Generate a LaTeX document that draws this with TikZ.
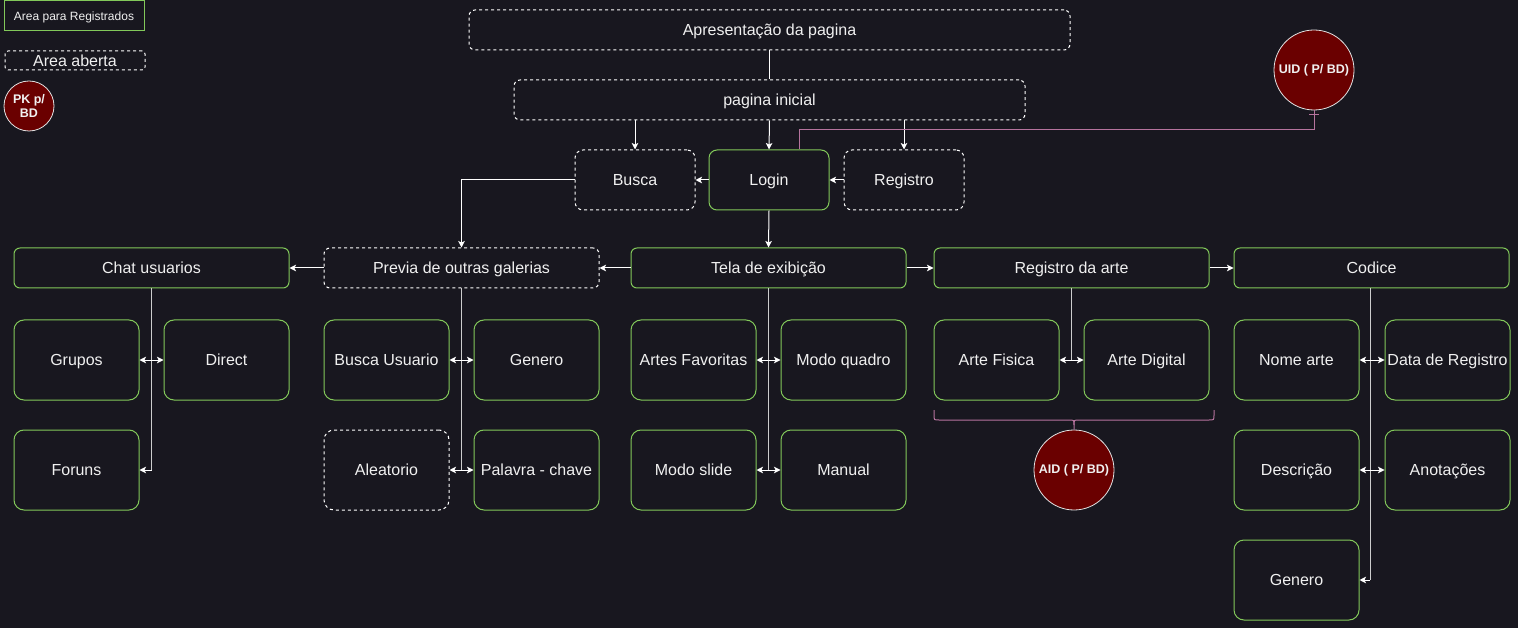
\documentclass[tikz,border=0pt]{standalone}
\usepackage{fontspec}
\setmainfont{Liberation Sans}
\usetikzlibrary{arrows.meta}
\definecolor{bg}{RGB}{24,23,31}
\definecolor{grn}{RGB}{130,200,90}
\definecolor{pnk}{RGB}{181,115,157}
\definecolor{dred}{RGB}{106,0,0}
\definecolor{txt}{RGB}{240,240,240}
\definecolor{trk}{RGB}{205,205,205}
\definecolor{cbord}{RGB}{225,225,225}
\begin{document}
\begin{tikzpicture}[x=1pt,y=-1pt,
  base/.style={rounded corners=6pt, text=txt, font=\fontsize{16}{19}\selectfont, inner sep=1pt, line width=1pt, fill=bg, text height=11.5pt, text depth=0pt},
  gbox/.style={base, draw=grn},
  dbox/.style={base, draw=white, dash pattern=on 3pt off 3pt},
  wide/.style={minimum width=275pt, minimum height=40pt},
  sq/.style={minimum width=125pt, minimum height=80pt, rounded corners=10pt},
  mid/.style={minimum width=120pt, minimum height=60pt, rounded corners=8pt},
  circ/.style={circle, draw=cbord, line width=0.8pt, fill=dred, text=txt, font=\bfseries\fontsize{12.5}{14}\selectfont, inner sep=0pt, align=center},
  arr/.style={draw=white, line width=1pt, -{Stealth[length=6.5pt,width=6.5pt,inset=1.5pt]}},
  plain/.style={draw=white, line width=1pt},
  trunk/.style={draw=trk, line width=1pt},
  pk/.style={draw=pnk, line width=1pt}]
\fill[bg] (0,0) rectangle (1518,628);
\useasboundingbox (0,0) rectangle (1518,628);

% legend
\node[base, draw=grn, rounded corners=0pt, minimum width=140pt, minimum height=30pt, font=\fontsize{12}{14}\selectfont, text height=8.6pt, text depth=0pt] (lreg) at (74,16) {Area para Registrados};
\node[dbox, rounded corners=3pt, minimum width=140pt, minimum height=19pt, inner sep=0pt] (lopen) at (75,60.5) {Area aberta};
\node[circ, minimum size=50pt] (pk) at (29,106) {PK p/\\BD};

% top
\node[dbox, minimum width=601pt, minimum height=40pt] (apres) at (769.5,30) {Apresentação da pagina};
\node[dbox, minimum width=511pt, minimum height=40pt] (inicial) at (769.5,100) {pagina inicial};
\node[dbox, mid] (busca) at (635,180) {Busca};
\node[gbox, mid] (login) at (769,180) {Login};
\node[dbox, mid] (registro) at (904,180) {Registro};
\node[circ, minimum size=80pt] (uid) at (1314,70) {UID ( P/ BD)};

% row 2
\node[gbox, wide] (chat) at (151.5,268) {Chat usuarios};
\node[dbox, wide] (previa) at (461.5,268) {Previa de outras galerias};
\node[gbox, wide] (tela) at (768.5,268) {Tela de exibição};
\node[gbox, wide] (rarte) at (1071.5,268) {Registro da arte};
\node[gbox, wide] (codice) at (1371.5,268) {Codice};

% row 3
\node[gbox, sq] (grupos) at (76.5,360) {Grupos};
\node[gbox, sq] (direct) at (226.5,360) {Direct};
\node[gbox, sq] (buscau) at (386.5,360) {Busca Usuario};
\node[gbox, sq] (generoa) at (536.5,360) {Genero};
\node[gbox, sq] (favs) at (693.5,360) {Artes Favoritas};
\node[gbox, sq] (quadro) at (843.5,360) {Modo quadro};
\node[gbox, sq] (fisica) at (996.5,360) {Arte Fisica};
\node[gbox, sq] (digital) at (1146.5,360) {Arte Digital};
\node[gbox, sq] (nome) at (1296.5,360) {Nome arte};
\node[gbox, sq] (data) at (1447.5,360) {Data de Registro};

% row 4
\node[gbox, sq] (foruns) at (76.5,470) {Foruns};
\node[dbox, sq] (aleat) at (386.5,470) {Aleatorio};
\node[gbox, sq] (palavra) at (536.5,470) {Palavra - chave};
\node[gbox, sq] (slide) at (693.5,470) {Modo slide};
\node[gbox, sq] (manual) at (843.5,470) {Manual};
\node[circ, minimum size=80pt] (aid) at (1074,470) {AID ( P/ BD)};
\node[gbox, sq] (descr) at (1296.5,470) {Descrição};
\node[gbox, sq] (anot) at (1447.5,470) {Anotações};

% row 5
\node[gbox, sq] (generob) at (1296.5,580) {Genero};

% top connectors
\draw[plain] (apres.south) -- (inicial.north);
\draw[arr] (busca.north |- inicial.south) -- (busca.north);
\draw[arr] (inicial.south) -- (login.north);
\draw[arr] (registro.north |- inicial.south) -- (registro.north);
\draw[arr] (login.west) -- (busca.east);
\draw[arr] (registro.west) -- (login.east);
\draw[arr] (busca.west) -| (previa.north);
\draw[arr] (login.south) -- (tela.north);
\draw[pk] ([xshift=30pt]login.north) -- ++(0,-20) -| (uid.south);
\draw[pk] ([xshift=-5pt,yshift=-4pt]uid.south) -- ([xshift=5pt,yshift=-4pt]uid.south);

% row 2 connectors
\draw[arr] (previa.west) -- (chat.east);
\draw[arr] (tela.west) -- (previa.east);
\draw[arr] (tela.east) -- (rarte.west);
\draw[arr] (rarte.east) -- (codice.west);

% chat trunk
\draw[trunk] (chat.south) -- (chat.south |- foruns.east);
\draw[arr] (chat.south |- grupos.east) -- (grupos.east);
\draw[arr] (chat.south |- direct.west) -- (direct.west);
\draw[arr] (chat.south |- foruns.east) -- (foruns.east);

% previa trunk
\draw[trunk] (previa.south) -- (previa.south |- aleat.east);
\draw[arr] (previa.south |- buscau.east) -- (buscau.east);
\draw[arr] (previa.south |- generoa.west) -- (generoa.west);
\draw[arr] (previa.south |- aleat.east) -- (aleat.east);
\draw[arr] (previa.south |- palavra.west) -- (palavra.west);

% tela trunk
\draw[trunk] (tela.south) -- (tela.south |- slide.east);
\draw[arr] (tela.south |- favs.east) -- (favs.east);
\draw[arr] (tela.south |- quadro.west) -- (quadro.west);
\draw[arr] (tela.south |- slide.east) -- (slide.east);
\draw[arr] (tela.south |- manual.west) -- (manual.west);

% registro da arte trunk
\draw[trunk] (rarte.south) -- (rarte.south |- fisica.east);
\draw[arr] (rarte.south |- fisica.east) -- (fisica.east);
\draw[arr] (rarte.south |- digital.west) -- (digital.west);

% curly brace to AID
\draw[pk] (934,410) -- (934,415) .. controls (934,420) .. (939,420) -- (1069,420)
  .. controls (1074,420) .. (1074,425) -- (aid.north);
\draw[pk] (1074,425) .. controls (1074,420) .. (1079,420) -- (1209,420)
  .. controls (1214,420) .. (1214,415) -- (1214,410);

% codice trunk
\draw[trunk] ([xshift=-1.5pt]codice.south) -- ([xshift=-1.5pt]codice.south |- generob.east);
\draw[arr] ([xshift=-1.5pt]codice.south |- nome.east) -- (nome.east);
\draw[arr] ([xshift=-1.5pt]codice.south |- data.west) -- (data.west);
\draw[arr] ([xshift=-1.5pt]codice.south |- descr.east) -- (descr.east);
\draw[arr] ([xshift=-1.5pt]codice.south |- anot.west) -- (anot.west);
\draw[arr] ([xshift=-1.5pt]codice.south |- generob.east) -- (generob.east);
\end{tikzpicture}
\end{document}
